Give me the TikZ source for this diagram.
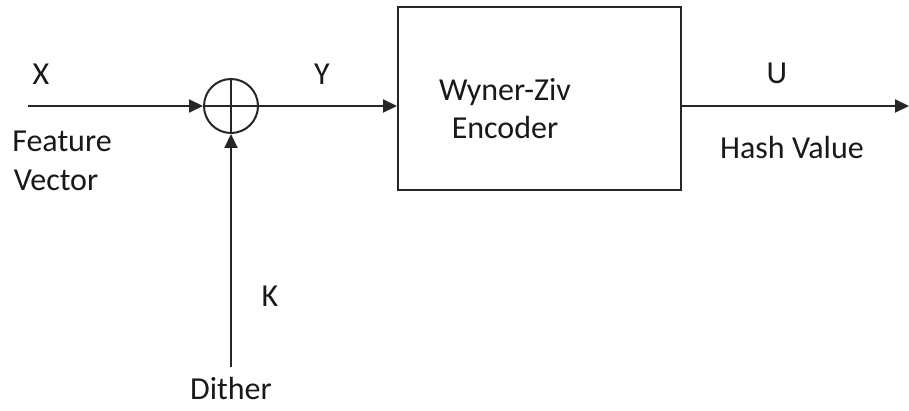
\documentclass[tikz,border=0pt]{standalone}
\usepackage{fontspec}
\setmainfont{Carlito}
\usetikzlibrary{arrows.meta}
\begin{document}
\begin{tikzpicture}[x=1pt,y=-1pt,
  line/.style={line width=2pt,draw=black!85},
  arr/.style={line,-{Triangle[length=14pt,width=13pt]}},
  lbl/.style={font=\fontsize{32}{38}\selectfont,text=black!90,inner sep=0pt},
  blk/.style={line,rectangle,inner sep=0pt}]
\useasboundingbox (0,0) rectangle (909,411);
\fill[white] (0,0) rectangle (909,411);
\node[circle,line,minimum size=54pt,inner sep=0pt] (sum) at (231,106) {};
\draw[line] (sum.north) -- (sum.south) (sum.west) -- (sum.east);
\node[blk,minimum width=283pt,minimum height=183pt] (enc) at (539.5,98.5) {};
\node[lbl,align=center] (enctxt) at (505,109) {Wyner-Ziv\\Encoder};
\coordinate (xin) at (28,106);
\coordinate (out) at (909,106);
\coordinate (kin) at (231,367);
\draw[arr] (xin) -- (sum.west);
\draw[arr] (sum.east) -- (enc.west |- sum.east);
\draw[arr] (enc.east |- sum.east) -- (out);
\draw[arr] (kin) -- (sum.south);
\node[lbl] (X) at (41,74) {X};
\node[lbl] (Y) at (322,74) {Y};
\node[lbl] (U) at (777,73) {U};
\node[lbl] (feat) at (62,141) {Feature};
\node[lbl] (vec) at (56,180) {Vector};
\node[lbl] (hash) at (792,148) {Hash Value};
\node[lbl] (K) at (270,296) {K};
\node[lbl] (dith) at (231,389) {Dither};
\end{tikzpicture}
\end{document}
